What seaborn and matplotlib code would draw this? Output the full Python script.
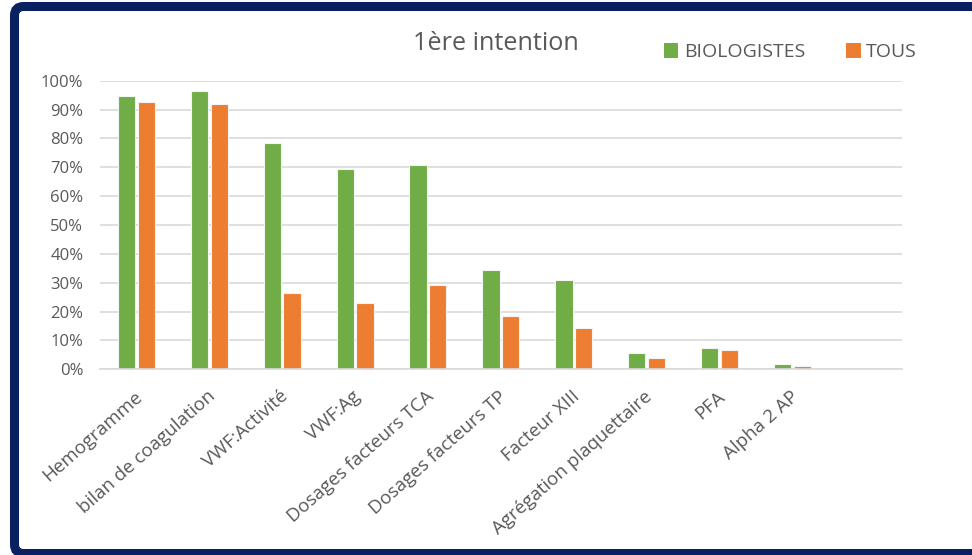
import matplotlib
matplotlib.use("Agg")
import matplotlib.pyplot as plt
import matplotlib.transforms as mtransforms
from matplotlib.patches import PathPatch, Patch
from matplotlib.path import Path
from matplotlib.ticker import PercentFormatter
import pandas as pd
import seaborn as sns

# Examens demandés en 1ère intention
categories = [
    "Hemogramme", "bilan de coagulation", "VWF:Activité", "VWF:Ag",
    "Dosages facteurs TCA", "Dosages facteurs TP", "Facteur XIII",
    "Agrégation plaquettaire", "PFA", "Alpha 2 AP",
]
biologistes = [0.947, 0.965, 0.783, 0.693, 0.708, 0.345, 0.31, 0.056, 0.073, 0.018]
tous = [0.927, 0.918, 0.263, 0.23, 0.291, 0.186, 0.144, 0.038, 0.067, 0.01]
series_names = ["BIOLOGISTES", "TOUS"]
y_ticks = [i / 10 for i in range(11)]

GREEN = "#70AD47"
ORANGE = "#ED7D31"
TEXT = "#595959"
GRID = "#D9D9D9"
NAVY = "#0A2161"

df = pd.DataFrame({
    "examen": categories * 2,
    "serie": [series_names[0]] * len(categories) + [series_names[1]] * len(categories),
    "valeur": biologistes + tous,
})

sns.set_theme(style="white")
plt.rcParams["font.family"] = ["Open Sans", "DejaVu Sans"]

fig = plt.figure(figsize=(9.72, 5.55), dpi=100)
ax = fig.add_axes([0.1029, 0.3346, 0.8248, 0.52])

sns.barplot(
    data=df, x="examen", y="valeur", hue="serie", order=categories,
    hue_order=series_names, palette=[GREEN, ORANGE], saturation=1,
    width=0.54, gap=0.12, edgecolor="#F4F4F4", linewidth=0.8,
    legend=False, ax=ax,
)

ax.set_xlim(-0.5, len(categories) + 0.5)
ax.set_ylim(0, 1)
ax.set_yticks(y_ticks)
ax.yaxis.set_major_formatter(PercentFormatter(1.0, decimals=0))
ax.set_xlabel("")
ax.set_ylabel("")
ax.set_axisbelow(True)
ax.yaxis.grid(True, color=GRID, linewidth=1.2)
ax.xaxis.grid(False)
for side in ["top", "right", "left"]:
    ax.spines[side].set_visible(False)
ax.spines["bottom"].set_color(GRID)
ax.spines["bottom"].set_linewidth(1.2)

ax.tick_params(axis="y", length=0, pad=12, labelsize=12, labelcolor=TEXT)
ax.tick_params(axis="x", length=0, pad=13, labelsize=13.5, labelcolor=TEXT)
ax.set_xticks(range(len(categories)))
ax.set_xticklabels(categories, rotation=41.5, ha="right", va="top", rotation_mode="anchor")
shift = mtransforms.ScaledTranslation(-2 / 72, 0, fig.dpi_scale_trans)
for lab in ax.get_xticklabels():
    lab.set_transform(lab.get_transform() + shift)

fig.text(0.510, 0.922, "1ère intention", ha="center", va="center", fontsize=18.2, color=TEXT)

handles = [Patch(facecolor=GREEN, edgecolor="none"), Patch(facecolor=ORANGE, edgecolor="none")]
fig.legend(
    handles, series_names, loc="center left", bbox_to_anchor=(0.673, 0.906),
    ncol=2, frameon=False, fontsize=14, labelcolor=TEXT, handlelength=0.75,
    handleheight=0.75, handletextpad=0.28, columnspacing=2.1, borderpad=0,
)

# Cadre bleu marine (coins gauches arrondis), ouvert sur la droite
x0, y0, y1, r, x_end = 14.5, 1.5, 548.5, 9.0, 1100.0
verts = [
    (x_end, y1), (x0 + r, y1), (x0, y1), (x0, y1 - r),
    (x0, y0 + r), (x0, y0), (x0 + r, y0), (x_end, y0),
]
codes = [
    Path.MOVETO, Path.LINETO, Path.CURVE3, Path.CURVE3,
    Path.LINETO, Path.CURVE3, Path.CURVE3, Path.LINETO,
]
frame = PathPatch(
    Path(verts, codes), transform=mtransforms.IdentityTransform(),
    facecolor="none", edgecolor=NAVY, linewidth=6.5, clip_on=False,
)
fig.add_artist(frame)

fig.savefig("out.png", dpi=100)
